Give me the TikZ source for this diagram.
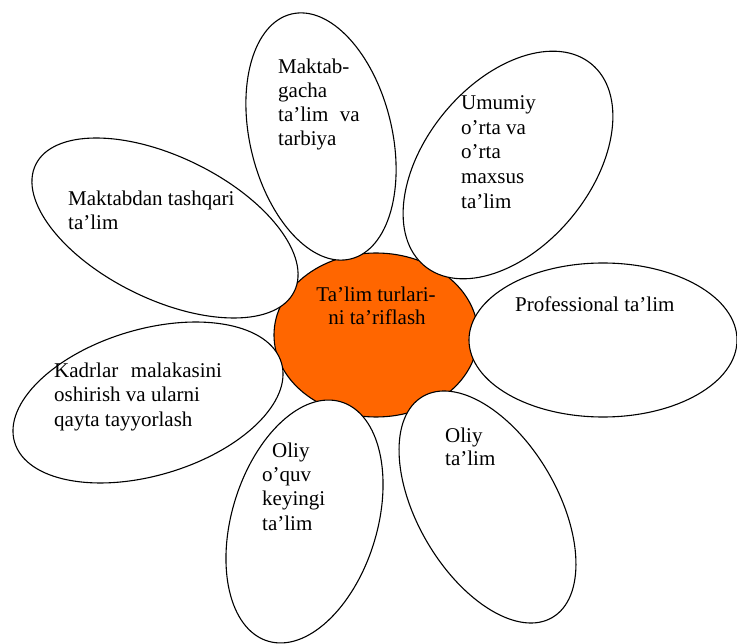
\documentclass[tikz,border=0pt]{standalone}
\usepackage{fontspec}
\setmainfont{Liberation Serif}
\definecolor{coreorange}{HTML}{FF6600}
\begin{document}
\begin{tikzpicture}[x=1pt,y=-1pt,
  lbl/.style={anchor=base west, inner sep=0pt, font=\fontsize{21}{24}\selectfont},
  clbl/.style={anchor=base, inner sep=0pt, font=\fontsize{21}{24}\selectfont},
  petalline/.style={draw=black, line width=1.1pt},
  corestyle/.style={fill=coreorange, draw=black, line width=1.1pt}]
\useasboundingbox (0,0) rectangle (737,644);
% centre
\path[corestyle] (376,335) ellipse [x radius=102pt, y radius=82pt];
% petal fills
\foreach \cx/\cy/\a/\b/\r in {321/136.5/126/71/103.6, 508/165/131/82.4/50.4, 165/228/144/71.2/-26.1, 603/340/134/77/0, 148/402.5/139.2/73/16.6, 304.5/521.5/125.1/72.6/72.9, 487.5/507/128.1/69.8/120.4}
  \fill[white] (\cx,\cy) ellipse [x radius=\a pt, y radius=\b pt, rotate=\r];
% petal outlines
\foreach \cx/\cy/\a/\b/\r in {321/136.5/126/71/103.6, 508/165/131/82.4/50.4, 165/228/144/71.2/-26.1, 603/340/134/77/0, 148/402.5/139.2/73/16.6, 304.5/521.5/125.1/72.6/72.9, 487.5/507/128.1/69.8/120.4}
  \path[petalline] (\cx,\cy) ellipse [x radius=\a pt, y radius=\b pt, rotate=\r];
% centre text
\node[clbl] (c1) at (376,301.5) {Ta’lim turlari-};
\node[clbl] (c2) at (377,325) {ni ta’riflash};
% Maktabgacha
\node[lbl] (m1) at (278,74) {Maktab-};
\node[lbl] (m2) at (278,98) {gacha};
\node[lbl] (m3) at (278,122) {ta’lim\hspace{0.3em} va};
\node[lbl] (m4) at (278,146) {tarbiya};
% Umumiy
\node[lbl] (u1) at (461,110) {Umumiy};
\node[lbl] (u2) at (461,134.5) {o’rta va};
\node[lbl] (u3) at (461,159) {o’rta};
\node[lbl] (u4) at (461,184) {maxsus};
\node[lbl] (u5) at (461,208.5) {ta’lim};
% Maktabdan tashqari
\node[lbl] (t1) at (68,206) {Maktabdan tashqari};
\node[lbl] (t2) at (68,229.5) {ta’lim};
% Professional
\node[lbl] (p1) at (515,311.5) {Professional ta’lim};
% Kadrlar
\node[lbl] (k1) at (54,378) {Kadrlar\hspace{0.35em} malakasini};
\node[lbl] (k2) at (54,402) {oshirish va ularni};
\node[lbl] (k3) at (54,426.5) {qayta tayyorlash};
% Oliy o'quv keyingi
\node[lbl] (o1) at (272,457.5) {Oliy};
\node[lbl] (o2) at (262,481.5) {o’quv};
\node[lbl] (o3) at (262,505.5) {keyingi};
\node[lbl] (o4) at (262,530) {ta’lim};
% Oliy ta'lim
\node[lbl] (l1) at (445,442.5) {Oliy};
\node[lbl] (l2) at (445,465.5) {ta’lim};
\end{tikzpicture}
\end{document}
